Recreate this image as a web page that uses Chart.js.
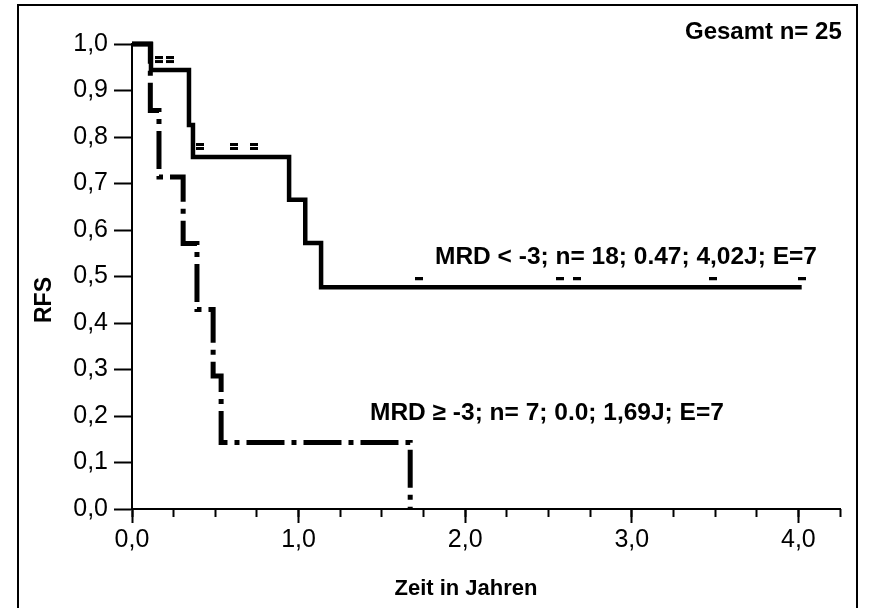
<!DOCTYPE html>
<html><head><meta charset="utf-8">
<script src="https://cdn.jsdelivr.net/npm/chart.js@4/dist/chart.umd.min.js"></script>
<style>html,body{margin:0;padding:0;background:#fff;overflow:hidden}#wrap{width:870px;height:608px;position:relative}</style>
</head><body><div id="wrap"><canvas id="c" width="870" height="608"></canvas></div>
<script>
const FONT = "'Liberation Sans', Arial, sans-serif";
// Kaplan-Meier curve: MRD < -3 (n = 18)
const lowTimes = [0, 0.114, 0.342, 0.366, 0.943, 1.04, 1.135, 4.02];
const lowRFS   = [1.0, 0.944, 0.826, 0.757, 0.665, 0.572, 0.477, 0.477];
// Kaplan-Meier curve: MRD >= -3 (n = 7)
const highTimes = [0, 0.11, 0.162, 0.307, 0.39, 0.487, 0.535, 1.67];
const highRFS   = [1.0, 0.857, 0.714, 0.571, 0.429, 0.286, 0.143, 0.0];
// censored observations (MRD < -3)
const lowCensorSingle = [1.72, 2.57, 2.67, 3.49, 4.02];
const lowCensorDouble = [0.16, 0.23, 0.41, 0.61, 0.73];
// tick labels
const xTickLabels = ['0,0', '1,0', '2,0', '3,0', '4,0'];
const yTickLabels = ['0,0','0,1','0,2','0,3','0,4','0,5','0,6','0,7','0,8','0,9','1,0'];
const totalText = 'Gesamt n= 25';
const lowText = 'MRD < -3; n= 18; 0.47; 4,02J; E=7';
const highText = 'MRD \u2265 -3; n= 7; 0.0; 1,69J; E=7';
const xTitle = 'Zeit in Jahren';
const yTitle = 'RFS';

function levelAt(times, vals, t) {
  let v = vals[0];
  for (let i = 0; i < times.length; i++) if (times[i] <= t) v = vals[i];
  return v;
}
function makeMark(double) {
  const c = document.createElement('canvas');
  c.width = 8; c.height = double ? 28 : 20;
  const g = c.getContext('2d');
  g.fillStyle = '#000';
  g.fillRect(0, 0, 8, 3);
  if (double) g.fillRect(0, 4, 8, 3);
  return c;
}
const singleMark = makeMark(false);
const doubleMark = makeMark(true);

const framePlugin = {
  id: 'frame',
  beforeDraw(chart) {
    const ctx = chart.ctx;
    ctx.save();
    ctx.fillStyle = '#fff';
    ctx.fillRect(0, 0, chart.width, chart.height);
    ctx.strokeStyle = '#000';
    ctx.lineWidth = 2;
    ctx.strokeRect(18, 5, 839, 700);
    ctx.restore();
  }
};
const textPlugin = {
  id: 'texts',
  afterDraw(chart) {
    const ctx = chart.ctx;
    ctx.save();
    ctx.fillStyle = '#000';
    ctx.textBaseline = 'middle';
    ctx.textAlign = 'left';
    ctx.font = 'bold 24px ' + FONT;
    ctx.fillText(totalText, 685, 32);
    ctx.font = 'bold 24.5px ' + FONT;
    ctx.fillText(lowText, 435, 257);
    ctx.fillText(highText, 370, 413);
    ctx.textAlign = 'center';
    ctx.font = 'bold 22px ' + FONT;
    ctx.fillText(xTitle, 466, 589);
    ctx.font = 'bold 23px ' + FONT;
    ctx.translate(45, 300);
    ctx.rotate(-Math.PI / 2);
    ctx.fillText(yTitle, 0, 0);
    ctx.restore();
  }
};

new Chart(document.getElementById('c'), {
  type: 'line',
  data: {
    datasets: [
      {
        label: 'MRD < -3',
        data: lowTimes.map((t, i) => ({x: t, y: lowRFS[i]})),
        stepped: 'before', borderColor: '#000', borderWidth: 4.5,
        pointRadius: 0, fill: false, clip: false, borderCapStyle: 'butt'
      },
      {
        label: 'MRD >= -3',
        data: highTimes.map((t, i) => ({x: t, y: highRFS[i]})),
        stepped: 'before', borderColor: '#000', borderWidth: 5,
        borderDash: [38, 7, 5, 7], borderCapStyle: 'butt',
        pointRadius: 0, fill: false, clip: false
      },
      {
        label: 'censored',
        data: lowCensorSingle.map(t => ({x: t, y: levelAt(lowTimes, lowRFS, t)})),
        showLine: false, pointStyle: singleMark, pointRadius: 3, clip: false
      },
      {
        label: 'censored2',
        data: lowCensorDouble.map(t => ({x: t, y: levelAt(lowTimes, lowRFS, t)})),
        showLine: false, pointStyle: doubleMark, pointRadius: 3, clip: false
      }
    ]
  },
  options: {
    responsive: false, animation: false, devicePixelRatio: 1,
    layout: {padding: {left: 0, right: 30, top: 44, bottom: 0}},
    plugins: {legend: {display: false}, tooltip: {enabled: false}},
    scales: {
      x: {
        type: 'linear', min: 0, max: 4.25, position: 'bottom', weight: 1,
        afterFit(s) { s.height = 99; },
        afterBuildTicks(s) { s.ticks = xTickLabels.map((l, i) => ({value: i})); },
        ticks: {
          autoSkip: false, maxRotation: 0, padding: 2, color: '#000',
          font: {family: FONT, size: 25},
          callback: (v) => xTickLabels[Math.round(v)]
        },
        grid: {drawOnChartArea: false, tickLength: 14, tickColor: '#000', tickWidth: 2},
        border: {color: '#000', width: 2}
      },
      x2: {
        type: 'linear', min: 0, max: 4.25, position: 'bottom', weight: 0,
        afterFit(s) { s.height = 0; },
        ticks: {display: false, stepSize: 0.25},
        grid: {drawOnChartArea: false, tickLength: 8, tickColor: '#000', tickWidth: 2},
        border: {display: false}
      },
      y: {
        min: 0, max: 1,
        afterFit(s) { s.width = 132; },
        afterBuildTicks(s) { s.ticks = yTickLabels.map((l, i) => ({value: i / 10})); },
        ticks: {
          padding: 6, color: '#000', font: {family: FONT, size: 25},
          callback: (v) => yTickLabels[Math.round(v * 10)]
        },
        grid: {drawOnChartArea: false, tickLength: 18, tickColor: '#000', tickWidth: 2},
        border: {color: '#000', width: 2}
      }
    }
  },
  plugins: [framePlugin, textPlugin]
});
</script>
</body></html>
